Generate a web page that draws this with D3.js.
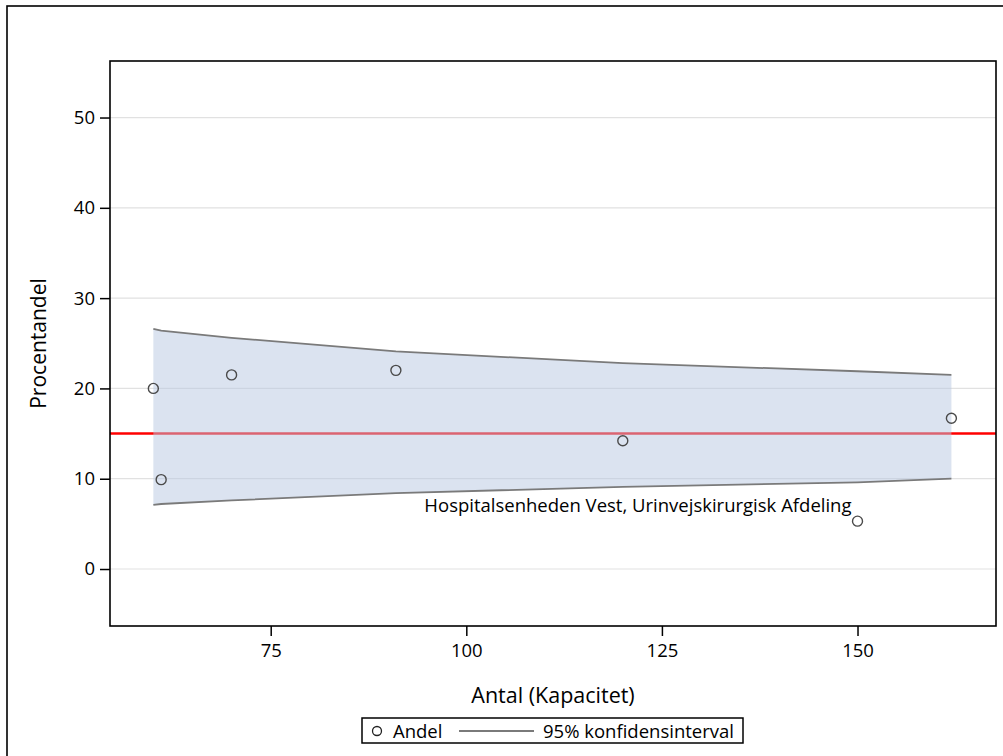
<!DOCTYPE html>
<html>
<head>
<meta charset="utf-8">
<script src="https://cdn.jsdelivr.net/npm/d3@7"></script>
<style>
  html, body { margin: 0; padding: 0; background: #fff; }
  svg { display: block; }
  text { font-family: "Open Sans", "Noto Sans", sans-serif; fill: #000; }
</style>
</head>
<body>
<svg id="chart" width="1003" height="756"></svg>
<script>
// ---- data ----
const capacity = [60, 61, 70, 91, 120, 150, 162];          // Antal (Kapacitet)
const share    = [20.0, 9.9, 21.5, 22.0, 14.2, 5.3, 16.7];  // Andel (%)
const bandX     = [60, 61, 70, 91, 120, 150, 162];
const bandUpper = [26.6, 26.4, 25.6, 24.1, 22.8, 21.9, 21.5];
const bandLower = [7.1, 7.2, 7.6, 8.4, 9.1, 9.6, 10.0];
const referenceLevel = 15;
const xTicks = [75, 100, 125, 150];
const yTicks = [0, 10, 20, 30, 40, 50];
const labelledIndex = 5;
const labelText = "Hospitalsenheden Vest, Urinvejskirurgisk Afdeling";
const xTitle = "Antal (Kapacitet)";
const yTitle = "Procentandel";
const legendItems = ["Andel", "95% konfidensinterval"];

// ---- layout ----
const svg = d3.select("#chart");
const plot = { left: 110, top: 61, right: 996, bottom: 626 };

const x = d3.scaleLinear().domain([54.46, 167.7]).range([plot.left, plot.right]);
const y = d3.scaleLinear().domain([-6.31, 56.26]).range([plot.bottom, plot.top]);

// outer frame (extends beyond the window bottom/right)
svg.append("rect")
  .attr("x", 7).attr("y", 6).attr("width", 1010).attr("height", 770)
  .attr("fill", "none").attr("stroke", "#000").attr("stroke-width", 1.6);

// gridlines
svg.append("g").selectAll("line").data(yTicks).join("line")
  .attr("x1", plot.left).attr("x2", plot.right)
  .attr("y1", d => y(d)).attr("y2", d => y(d))
  .attr("stroke", "#e1e1e1").attr("stroke-width", 1.2);

// reference line (under the translucent band)
svg.append("line")
  .attr("x1", plot.left).attr("x2", plot.right)
  .attr("y1", y(referenceLevel)).attr("y2", y(referenceLevel))
  .attr("stroke", "#ff0000").attr("stroke-width", 2.6);

// confidence band
const bandData = bandX.map((v, i) => ({ x: v, lo: bandLower[i], hi: bandUpper[i] }));
svg.append("path")
  .datum(bandData)
  .attr("d", d3.area().x(d => x(d.x)).y0(d => y(d.lo)).y1(d => y(d.hi)))
  .attr("fill", "rgb(183,200,225)").attr("fill-opacity", 0.5);

const edge = d3.line().x(d => x(d[0])).y(d => y(d[1]));
svg.append("path").datum(bandX.map((v, i) => [v, bandUpper[i]]))
  .attr("d", edge).attr("fill", "none").attr("stroke", "#7a7a7a").attr("stroke-width", 1.8);
svg.append("path").datum(bandX.map((v, i) => [v, bandLower[i]]))
  .attr("d", edge).attr("fill", "none").attr("stroke", "#7a7a7a").attr("stroke-width", 1.8);

// points
svg.append("g").selectAll("circle").data(capacity.map((c, i) => [c, share[i]])).join("circle")
  .attr("cx", d => x(d[0])).attr("cy", d => y(d[1])).attr("r", 5)
  .attr("fill", "none").attr("stroke", "#4a4a4a").attr("stroke-width", 1.4);

// point label
svg.append("text")
  .attr("x", x(capacity[labelledIndex]) - 6)
  .attr("y", y(share[labelledIndex]) - 9)
  .attr("text-anchor", "end")
  .style("font-size", "18.5px")
  .text(labelText);

// plot frame
svg.append("rect")
  .attr("x", plot.left).attr("y", plot.top)
  .attr("width", plot.right - plot.left).attr("height", plot.bottom - plot.top)
  .attr("fill", "none").attr("stroke", "#000").attr("stroke-width", 1.6);

// axes
const yAxis = svg.append("g").attr("transform", `translate(${plot.left},0)`)
  .call(d3.axisLeft(y).tickValues(yTicks).tickSize(10).tickPadding(5).tickFormat(d3.format("d")));
yAxis.select(".domain").remove();
yAxis.selectAll(".tick line").attr("stroke", "#000").attr("stroke-width", 1.5);
yAxis.selectAll(".tick text").style("font-size", "18.5px").attr("fill", "#000")
  .style("font-family", "'Open Sans', 'Noto Sans', sans-serif");

const xAxis = svg.append("g").attr("transform", `translate(0,${plot.bottom})`)
  .call(d3.axisBottom(x).tickValues(xTicks).tickSize(10).tickPadding(8).tickFormat(d3.format("d")));
xAxis.select(".domain").remove();
xAxis.selectAll(".tick line").attr("stroke", "#000").attr("stroke-width", 1.5);
xAxis.selectAll(".tick text").style("font-size", "18.5px").attr("fill", "#000")
  .style("font-family", "'Open Sans', 'Noto Sans', sans-serif");

// axis titles
svg.append("text")
  .attr("x", (plot.left + plot.right) / 2).attr("y", 703)
  .attr("text-anchor", "middle").style("font-size", "21.5px")
  .text(xTitle);
svg.append("text")
  .attr("transform", `translate(46,${(plot.top + plot.bottom) / 2}) rotate(-90)`)
  .attr("text-anchor", "middle").style("font-size", "21px")
  .text(yTitle);

// legend
const lg = svg.append("g");
lg.append("rect").attr("x", 362).attr("y", 718).attr("width", 381).attr("height", 25)
  .attr("fill", "#fff").attr("stroke", "#000").attr("stroke-width", 1.5);
lg.append("circle").attr("cx", 377).attr("cy", 731).attr("r", 4.5)
  .attr("fill", "none").attr("stroke", "#222").attr("stroke-width", 1.3);
lg.append("text").attr("x", 393).attr("y", 737.5).style("font-size", "18.5px").text(legendItems[0]);
lg.append("line").attr("x1", 459).attr("x2", 534).attr("y1", 731).attr("y2", 731)
  .attr("stroke", "#7a7a7a").attr("stroke-width", 1.8);
lg.append("text").attr("x", 543).attr("y", 737.5).style("font-size", "18.5px").text(legendItems[1]);
</script>
</body>
</html>
